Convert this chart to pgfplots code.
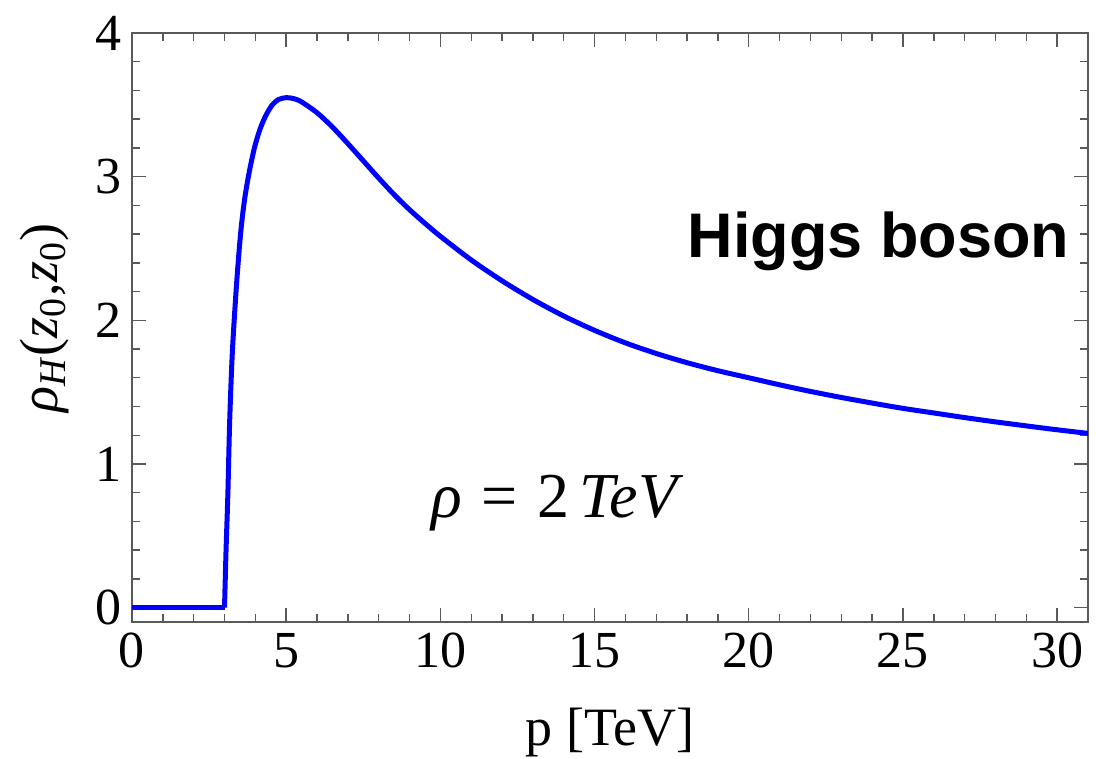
\documentclass[border=0pt]{standalone}
\usepackage{fontspec}
\setmainfont{Liberation Serif}
\newfontfamily\labelsans{Liberation Sans}
\usepackage{pgfplots}
\usepackage{pgfplotstable}
\pgfplotsset{compat=1.18}

% density below threshold (p < 3 TeV)
\pgfplotstableread{
p rho
0 0
3 0
}\below

% density above threshold
\pgfplotstableread{
p rho
3.00 0.00
3.05 0.40
3.11 0.80
3.165 1.28
3.25 1.76
3.38 2.22
3.52 2.60
3.65 2.84
3.80 3.03
3.97 3.20
4.15 3.33
4.35 3.43
4.55 3.50
4.75 3.537
5.00 3.55
5.25 3.543
5.50 3.52
6.00 3.445
6.50 3.345
7.00 3.23
7.50 3.11
8.00 2.99
8.50 2.875
9.00 2.77
9.50 2.675
10.0 2.585
11.0 2.42
12.0 2.275
13.0 2.145
14.0 2.03
15.0 1.93
16.0 1.843
17.0 1.769
18.0 1.705
19.0 1.649
20.0 1.600
21.0 1.551
22.0 1.505
23.0 1.463
24.0 1.424
25.0 1.387
26.0 1.355
27.0 1.323
28.0 1.293
29.0 1.265
30.0 1.238
31.0 1.213
}\above

\definecolor{framegray}{gray}{0.35}

\begin{document}
\begin{tikzpicture}
\useasboundingbox (-66pt,-68.5pt) rectangle (490.5pt,311pt);
\begin{axis}[
  at={(0,0)}, anchor=south west,
  scale only axis,
  width=478pt, height=294.5pt,
  xmin=0, xmax=31, ymin=-0.1, ymax=4,
  xtick={0,5,...,30}, ytick={0,1,2,3,4},
  minor x tick num=4, minor y tick num=4,
  tick align=inside,
  major tick length=7pt, minor tick length=4pt,
  axis line style={framegray, line width=0.8pt},
  every tick/.style={framegray, line width=0.7pt},
  /pgf/number format/assume math mode=true,
  ticklabel style={font=\fontsize{26}{26}\selectfont},
  xticklabel style={yshift=-2pt},
  yticklabel style={inner sep=0pt, xshift=-5pt},
  xlabel={p [TeV]},
  xlabel style={font=\fontsize{27}{27}\selectfont, at={(axis description cs:0.5,0)}, anchor=base, yshift=-61.5pt},
  ylabel={\textit{ρ}\textsubscript{\textit{H}}(\textit{z}\textsubscript{0}\kern0.5pt,\textit{z}\textsubscript{0})},
  ylabel style={font=\fontsize{27}{27}\selectfont, at={(axis description cs:-0.091,0.516)}, anchor=center},
]
\addplot[blue, line width=2.5pt] table[x=p, y=rho] {\below};
\addplot[blue, line width=2.5pt, smooth, tension=0.5] table[x=p, y=rho] {\above};

\node[anchor=center, inner sep=0pt, font=\labelsans\bfseries\fontsize{31.5}{31.5}\selectfont, anchor=base east]
  at (axis cs:30.4,2.44) {Higgs boson};
\node[anchor=center, inner sep=0pt, font=\fontsize{32}{32}\selectfont]
  at (axis cs:13.8,0.73) {\textit{ρ}\kern0.3em=\kern0.3em2\,\textit{TeV}};
\end{axis}
\end{tikzpicture}
\end{document}
